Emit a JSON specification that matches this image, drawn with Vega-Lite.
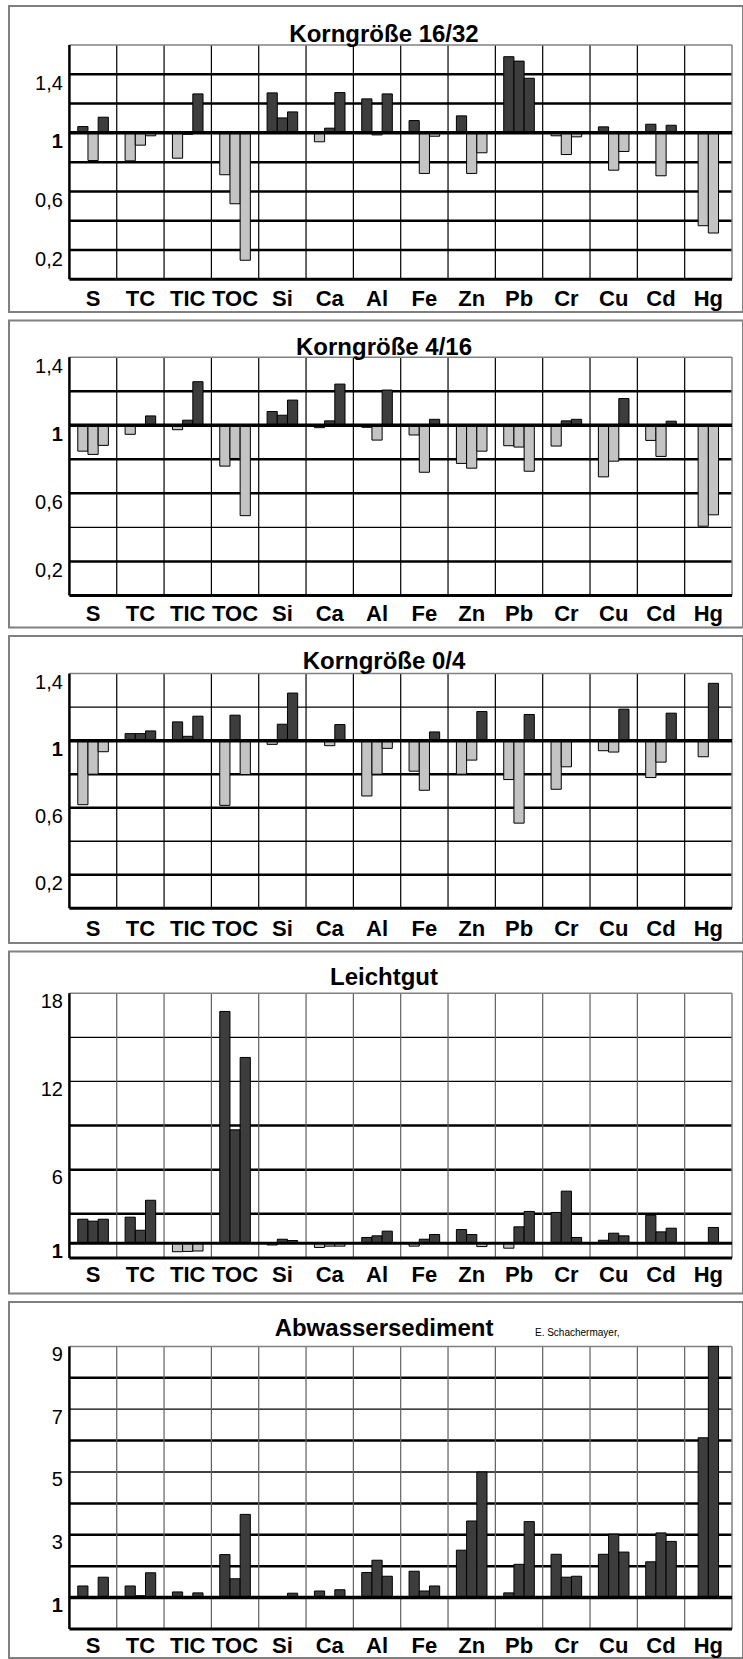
{
"$schema": "https://vega.github.io/schema/vega-lite/v6.json",
"background": "white",
"padding": {"left": 8, "top": 5, "right": 0, "bottom": 0},
"spacing": 6.5,
"config": {
 "view": {"stroke": "#808080", "strokeWidth": 2},
 "title": {"font": "Liberation Sans", "fontSize": 24, "fontWeight": "bold", "color": "#000000", "anchor": "middle"},
 "axis": {"labelFont": "Liberation Sans", "labelColor": "#000000"},
 "axisX": {"labelFontSize": 22, "labelFontWeight": "bold"},
 "axisY": {"labelFontSize": 20}
},
"datasets": {
 "cols": [{"el":"TC"},{"el":"TIC"},{"el":"TOC"},{"el":"Si"},{"el":"Ca"},{"el":"Al"},{"el":"Fe"},{"el":"Zn"},{"el":"Pb"},{"el":"Cr"},{"el":"Cu"},{"el":"Cd"},{"el":"Hg"}],
 "grid": [
  {"p":1,"g":0.2},{"p":1,"g":0.4},{"p":1,"g":0.6},{"p":1,"g":0.8},{"p":1,"g":1.2},{"p":1,"g":1.4},
  {"p":2,"g":0.2},{"p":2,"g":0.4},{"p":2,"g":0.6},{"p":2,"g":0.8},{"p":2,"g":1.2},
  {"p":3,"g":0.2},{"p":3,"g":0.4},{"p":3,"g":0.6},{"p":3,"g":0.8},{"p":3,"g":1.2},
  {"p":4,"g":3},{"p":4,"g":6},{"p":4,"g":9},{"p":4,"g":12},{"p":4,"g":15},
  {"p":5,"g":2},{"p":5,"g":3},{"p":5,"g":4},{"p":5,"g":5},{"p":5,"g":6},{"p":5,"g":7},{"p":5,"g":8}
 ],
 "bars": [
  {"p":1,"el":"S","s":"1","v":1.043},{"p":1,"el":"S","s":"2","v":0.811},{"p":1,"el":"S","s":"3","v":1.107},
  {"p":1,"el":"TC","s":"1","v":0.809},{"p":1,"el":"TC","s":"2","v":0.916},{"p":1,"el":"TC","s":"3","v":0.98},
  {"p":1,"el":"TIC","s":"1","v":0.827},{"p":1,"el":"TIC","s":"2","v":0.99},{"p":1,"el":"TIC","s":"3","v":1.266},
  {"p":1,"el":"TOC","s":"1","v":0.714},{"p":1,"el":"TOC","s":"2","v":0.516},{"p":1,"el":"TOC","s":"3","v":0.13},
  {"p":1,"el":"Si","s":"1","v":1.273},{"p":1,"el":"Si","s":"2","v":1.102},{"p":1,"el":"Si","s":"3","v":1.143},
  {"p":1,"el":"Ca","s":"1","v":0.939},{"p":1,"el":"Ca","s":"2","v":1.032},{"p":1,"el":"Ca","s":"3","v":1.275},
  {"p":1,"el":"Al","s":"1","v":1.232},{"p":1,"el":"Al","s":"2","v":0.986},{"p":1,"el":"Al","s":"3","v":1.266},
  {"p":1,"el":"Fe","s":"1","v":1.084},{"p":1,"el":"Fe","s":"2","v":0.723},{"p":1,"el":"Fe","s":"3","v":0.977},
  {"p":1,"el":"Zn","s":"1","v":1.116},{"p":1,"el":"Zn","s":"2","v":0.723},{"p":1,"el":"Zn","s":"3","v":0.864},
  {"p":1,"el":"Pb","s":"1","v":1.52},{"p":1,"el":"Pb","s":"2","v":1.49},{"p":1,"el":"Pb","s":"3","v":1.373},
  {"p":1,"el":"Cr","s":"1","v":0.98},{"p":1,"el":"Cr","s":"2","v":0.852},{"p":1,"el":"Cr","s":"3","v":0.973},
  {"p":1,"el":"Cu","s":"1","v":1.041},{"p":1,"el":"Cu","s":"2","v":0.745},{"p":1,"el":"Cu","s":"3","v":0.873},
  {"p":1,"el":"Cd","s":"1","v":1.059},{"p":1,"el":"Cd","s":"2","v":0.707},{"p":1,"el":"Cd","s":"3","v":1.052},
  {"p":1,"el":"Hg","s":"1","v":0.366},{"p":1,"el":"Hg","s":"2","v":0.316},

  {"p":2,"el":"S","s":"1","v":0.848},{"p":2,"el":"S","s":"2","v":0.829},{"p":2,"el":"S","s":"3","v":0.882},
  {"p":2,"el":"TC","s":"1","v":0.947},{"p":2,"el":"TC","s":"2","v":0.995},{"p":2,"el":"TC","s":"3","v":1.055},
  {"p":2,"el":"TIC","s":"1","v":0.974},{"p":2,"el":"TIC","s":"2","v":1.03},{"p":2,"el":"TIC","s":"3","v":1.256},
  {"p":2,"el":"TOC","s":"1","v":0.76},{"p":2,"el":"TOC","s":"2","v":0.805},{"p":2,"el":"TOC","s":"3","v":0.469},
  {"p":2,"el":"Si","s":"1","v":1.081},{"p":2,"el":"Si","s":"2","v":1.059},{"p":2,"el":"Si","s":"3","v":1.148},
  {"p":2,"el":"Ca","s":"1","v":0.986},{"p":2,"el":"Ca","s":"2","v":1.026},{"p":2,"el":"Ca","s":"3","v":1.242},
  {"p":2,"el":"Al","s":"1","v":0.988},{"p":2,"el":"Al","s":"2","v":0.913},{"p":2,"el":"Al","s":"3","v":1.207},
  {"p":2,"el":"Fe","s":"1","v":0.943},{"p":2,"el":"Fe","s":"2","v":0.724},{"p":2,"el":"Fe","s":"3","v":1.035},
  {"p":2,"el":"Zn","s":"1","v":0.776},{"p":2,"el":"Zn","s":"2","v":0.748},{"p":2,"el":"Zn","s":"3","v":0.848},
  {"p":2,"el":"Pb","s":"1","v":0.88},{"p":2,"el":"Pb","s":"2","v":0.872},{"p":2,"el":"Pb","s":"3","v":0.73},
  {"p":2,"el":"Cr","s":"1","v":0.878},{"p":2,"el":"Cr","s":"2","v":1.026},{"p":2,"el":"Cr","s":"3","v":1.035},
  {"p":2,"el":"Cu","s":"1","v":0.697},{"p":2,"el":"Cu","s":"2","v":0.789},{"p":2,"el":"Cu","s":"3","v":1.157},
  {"p":2,"el":"Cd","s":"1","v":0.911},{"p":2,"el":"Cd","s":"2","v":0.817},{"p":2,"el":"Cd","s":"3","v":1.024},
  {"p":2,"el":"Hg","s":"1","v":0.407},{"p":2,"el":"Hg","s":"2","v":0.474},

  {"p":3,"el":"S","s":"1","v":0.618},{"p":3,"el":"S","s":"2","v":0.8},{"p":3,"el":"S","s":"3","v":0.934},
  {"p":3,"el":"TC","s":"1","v":1.042},{"p":3,"el":"TC","s":"2","v":1.042},{"p":3,"el":"TC","s":"3","v":1.058},
  {"p":3,"el":"TIC","s":"1","v":1.112},{"p":3,"el":"TIC","s":"2","v":1.026},{"p":3,"el":"TIC","s":"3","v":1.146},
  {"p":3,"el":"TOC","s":"1","v":0.614},{"p":3,"el":"TOC","s":"2","v":1.152},{"p":3,"el":"TOC","s":"3","v":0.798},
  {"p":3,"el":"Si","s":"1","v":0.978},{"p":3,"el":"Si","s":"2","v":1.098},{"p":3,"el":"Si","s":"3","v":1.284},
  {"p":3,"el":"Ca","s":"2","v":0.97},{"p":3,"el":"Ca","s":"3","v":1.096},
  {"p":3,"el":"Al","s":"1","v":0.67},{"p":3,"el":"Al","s":"2","v":0.8},{"p":3,"el":"Al","s":"3","v":0.954},
  {"p":3,"el":"Fe","s":"1","v":0.818},{"p":3,"el":"Fe","s":"2","v":0.704},{"p":3,"el":"Fe","s":"3","v":1.052},
  {"p":3,"el":"Zn","s":"1","v":0.8},{"p":3,"el":"Zn","s":"2","v":0.884},{"p":3,"el":"Zn","s":"3","v":1.174},
  {"p":3,"el":"Pb","s":"1","v":0.768},{"p":3,"el":"Pb","s":"2","v":0.508},{"p":3,"el":"Pb","s":"3","v":1.156},
  {"p":3,"el":"Cr","s":"1","v":0.71},{"p":3,"el":"Cr","s":"2","v":0.844},
  {"p":3,"el":"Cu","s":"1","v":0.94},{"p":3,"el":"Cu","s":"2","v":0.932},{"p":3,"el":"Cu","s":"3","v":1.188},
  {"p":3,"el":"Cd","s":"1","v":0.78},{"p":3,"el":"Cd","s":"2","v":0.872},{"p":3,"el":"Cd","s":"3","v":1.164},
  {"p":3,"el":"Hg","s":"1","v":0.904},{"p":3,"el":"Hg","s":"2","v":1.342},

  {"p":4,"el":"S","s":"1","v":2.63},{"p":4,"el":"S","s":"2","v":2.5},{"p":4,"el":"S","s":"3","v":2.63},
  {"p":4,"el":"TC","s":"1","v":2.77},{"p":4,"el":"TC","s":"2","v":1.88},{"p":4,"el":"TC","s":"3","v":3.92},
  {"p":4,"el":"TIC","s":"1","v":0.42},{"p":4,"el":"TIC","s":"2","v":0.44},{"p":4,"el":"TIC","s":"3","v":0.47},
  {"p":4,"el":"TOC","s":"1","v":16.76},{"p":4,"el":"TOC","s":"2","v":8.71},{"p":4,"el":"TOC","s":"3","v":13.63},
  {"p":4,"el":"Si","s":"1","v":0.88},{"p":4,"el":"Si","s":"2","v":1.27},{"p":4,"el":"Si","s":"3","v":1.18},
  {"p":4,"el":"Ca","s":"1","v":0.71},{"p":4,"el":"Ca","s":"2","v":0.8},{"p":4,"el":"Ca","s":"3","v":0.8},
  {"p":4,"el":"Al","s":"1","v":1.39},{"p":4,"el":"Al","s":"2","v":1.5},{"p":4,"el":"Al","s":"3","v":1.82},
  {"p":4,"el":"Fe","s":"1","v":0.8},{"p":4,"el":"Fe","s":"2","v":1.27},{"p":4,"el":"Fe","s":"3","v":1.59},
  {"p":4,"el":"Zn","s":"1","v":1.93},{"p":4,"el":"Zn","s":"2","v":1.59},{"p":4,"el":"Zn","s":"3","v":0.77},
  {"p":4,"el":"Pb","s":"1","v":0.66},{"p":4,"el":"Pb","s":"2","v":2.11},{"p":4,"el":"Pb","s":"3","v":3.16},
  {"p":4,"el":"Cr","s":"1","v":3.09},{"p":4,"el":"Cr","s":"2","v":4.54},{"p":4,"el":"Cr","s":"3","v":1.39},
  {"p":4,"el":"Cu","s":"1","v":1.2},{"p":4,"el":"Cu","s":"2","v":1.68},{"p":4,"el":"Cu","s":"3","v":1.5},
  {"p":4,"el":"Cd","s":"1","v":2.9},{"p":4,"el":"Cd","s":"2","v":1.77},{"p":4,"el":"Cd","s":"3","v":2.02},
  {"p":4,"el":"Hg","s":"2","v":2.07},

  {"p":5,"el":"S","s":"1","v":1.37},{"p":5,"el":"S","s":"2","v":0.97},{"p":5,"el":"S","s":"3","v":1.65},
  {"p":5,"el":"TC","s":"1","v":1.37},{"p":5,"el":"TC","s":"2","v":1.06},{"p":5,"el":"TC","s":"3","v":1.79},
  {"p":5,"el":"TIC","s":"1","v":1.18},{"p":5,"el":"TIC","s":"2","v":0.97},{"p":5,"el":"TIC","s":"3","v":1.15},
  {"p":5,"el":"TOC","s":"1","v":2.37},{"p":5,"el":"TOC","s":"2","v":1.6},{"p":5,"el":"TOC","s":"3","v":3.65},
  {"p":5,"el":"Si","s":"3","v":1.14},
  {"p":5,"el":"Ca","s":"1","v":1.21},{"p":5,"el":"Ca","s":"2","v":0.97},{"p":5,"el":"Ca","s":"3","v":1.25},
  {"p":5,"el":"Al","s":"1","v":1.8},{"p":5,"el":"Al","s":"2","v":2.19},{"p":5,"el":"Al","s":"3","v":1.68},
  {"p":5,"el":"Fe","s":"1","v":1.84},{"p":5,"el":"Fe","s":"2","v":1.21},{"p":5,"el":"Fe","s":"3","v":1.37},
  {"p":5,"el":"Zn","s":"1","v":2.51},{"p":5,"el":"Zn","s":"2","v":3.44},{"p":5,"el":"Zn","s":"3","v":5.0},
  {"p":5,"el":"Pb","s":"1","v":1.15},{"p":5,"el":"Pb","s":"2","v":2.06},{"p":5,"el":"Pb","s":"3","v":3.42},
  {"p":5,"el":"Cr","s":"1","v":2.38},{"p":5,"el":"Cr","s":"2","v":1.65},{"p":5,"el":"Cr","s":"3","v":1.68},
  {"p":5,"el":"Cu","s":"1","v":2.38},{"p":5,"el":"Cu","s":"2","v":3.02},{"p":5,"el":"Cu","s":"3","v":2.45},
  {"p":5,"el":"Cd","s":"1","v":2.14},{"p":5,"el":"Cd","s":"2","v":3.06},{"p":5,"el":"Cd","s":"3","v":2.79},
  {"p":5,"el":"Hg","s":"1","v":6.09},{"p":5,"el":"Hg","s":"2","v":9.0}
 ]
},
"vconcat": [
 {
  "width": 734, "height": 306,
  "title": {"text": "Korngröße 16/32", "offset": -40.7, "dx": 8},
  "resolve": {"scale": {"xOffset": "independent"}},
  "layer": [
   {"data": {"name": "grid"}, "transform": [{"filter": "datum.p == 1"}],
    "mark": {"type": "rule", "color": "#000000", "strokeWidth": 2.5},
    "encoding": {
     "x": {"datum": "S", "type": "nominal", "bandPosition": 0, "scale": {"domain": ["S","TC","TIC","TOC","Si","Ca","Al","Fe","Zn","Pb","Cr","Cu","Cd","Hg"], "paddingInner": 0, "paddingOuter": 0.7543, "align": 0.846},
       "axis": {"title": null, "orient": "bottom", "offset": -32.7, "domain": false, "ticks": false, "grid": false, "labelAngle": 0, "labelPadding": 9}},
     "x2": {"datum": "Hg", "bandPosition": 1},
     "y": {"field": "g", "type": "quantitative", "scale": {"domain": [-0.2233, 1.8663], "nice": false, "zero": false},
       "axis": {"title": null, "orient": "left", "offset": -60.4, "domain": false, "ticks": false, "grid": false, "values": [0.2, 0.6, 1, 1.4], "labelExpr": "datum.value == 1 ? '1' : replace(format(datum.value, '.1f'), '.', ',')", "labelFontWeight": {"condition": {"test": "datum.value == 1", "value": "bold"}, "value": "normal"}, "labelPadding": 7, "labelBaseline": "middle", "labelOffset": 9}}}},
   {"data": {"name": "cols"},
    "mark": {"type": "rule", "color": "#000000", "strokeWidth": 1.2},
    "encoding": {
     "x": {"field": "el", "type": "nominal", "bandPosition": 0},
     "y": {"datum": 0, "type": "quantitative"},
     "y2": {"datum": 1.6}}},
   {"data": {"values": [{}]},
    "mark": {"type": "rule", "color": "#808080", "strokeWidth": 1.5},
    "encoding": {
     "x": {"datum": "S", "type": "nominal", "bandPosition": 0},
     "x2": {"datum": "Hg", "bandPosition": 1},
     "y": {"datum": 1.6, "type": "quantitative"}}},
   {"data": {"values": [{}]},
    "mark": {"type": "rule", "color": "#808080", "strokeWidth": 1.5},
    "encoding": {
     "x": {"datum": "Hg", "type": "nominal", "bandPosition": 1},
     "y": {"datum": 0, "type": "quantitative"},
     "y2": {"datum": 1.6}}},
   {"data": {"name": "bars"}, "transform": [{"filter": "datum.p == 1 && datum.el != 'Hg'"}],
    "mark": {"type": "bar", "stroke": "#000000", "strokeWidth": 1},
    "encoding": {
     "x": {"field": "el", "type": "nominal"},
     "xOffset": {"field": "s", "type": "nominal", "scale": {"domain": ["1","2","3"], "paddingInner": 0, "paddingOuter": 0.82}},
     "y": {"field": "v", "type": "quantitative"},
     "y2": {"datum": 1},
     "fill": {"condition": {"test": "datum.v < 1", "value": "#c4c4c4"}, "value": "#3d3d3d"}}},
   {"data": {"name": "bars"}, "transform": [{"filter": "datum.p == 1 && datum.el == 'Hg'"}],
    "mark": {"type": "bar", "stroke": "#000000", "strokeWidth": 1},
    "encoding": {
     "x": {"field": "el", "type": "nominal"},
     "xOffset": {"field": "s", "type": "nominal", "scale": {"domain": ["0","1","2","3"], "paddingInner": 0, "paddingOuter": 0.32}},
     "y": {"field": "v", "type": "quantitative"},
     "y2": {"datum": 1},
     "fill": {"condition": {"test": "datum.v < 1", "value": "#c4c4c4"}, "value": "#3d3d3d"}}},
   {"data": {"values": [{}]},
    "mark": {"type": "rule", "color": "#000000", "strokeWidth": 3.5},
    "encoding": {
     "x": {"datum": "S", "type": "nominal", "bandPosition": 0},
     "x2": {"datum": "Hg", "bandPosition": 1},
     "y": {"datum": 1, "type": "quantitative"}}},
   {"data": {"values": [{}]},
    "mark": {"type": "rule", "color": "#000000", "strokeWidth": 3},
    "encoding": {
     "x": {"datum": "S", "type": "nominal", "bandPosition": 0},
     "x2": {"datum": "Hg", "bandPosition": 1},
     "y": {"datum": 0, "type": "quantitative"}}},
   {"data": {"values": [{}]},
    "mark": {"type": "rule", "color": "#000000", "strokeWidth": 2.5},
    "encoding": {
     "x": {"datum": "S", "type": "nominal", "bandPosition": 0},
     "y": {"datum": 0, "type": "quantitative"},
     "y2": {"datum": 1.6}}}
  ]
 },
 {
  "width": 734, "height": 307,
  "title": {"text": "Korngröße 4/16", "offset": -39.3, "dx": 8},
  "resolve": {"scale": {"xOffset": "independent"}},
  "layer": [
   {"data": {"name": "grid"}, "transform": [{"filter": "datum.p == 2"}],
    "mark": {"type": "rule", "color": "#000000"},
    "encoding": {
     "x": {"datum": "S", "type": "nominal", "bandPosition": 0, "scale": {"domain": ["S","TC","TIC","TOC","Si","Ca","Al","Fe","Zn","Pb","Cr","Cu","Cd","Hg"], "paddingInner": 0, "paddingOuter": 0.7543, "align": 0.846},
       "axis": {"title": null, "orient": "bottom", "offset": -32, "domain": false, "ticks": false, "grid": false, "labelAngle": 0, "labelPadding": 7.6}},
     "x2": {"datum": "Hg", "bandPosition": 1},
     "y": {"field": "g", "type": "quantitative", "scale": {"domain": [-0.188, 1.6156], "nice": false, "zero": false},
       "axis": {"title": null, "orient": "left", "offset": -60.4, "domain": false, "ticks": false, "grid": false, "values": [0.2, 0.6, 1, 1.4], "labelExpr": "datum.value == 1 ? '1' : replace(format(datum.value, '.1f'), '.', ',')", "labelFontWeight": {"condition": {"test": "datum.value == 1", "value": "bold"}, "value": "normal"}, "labelPadding": 7, "labelBaseline": "middle", "labelOffset": 9}},
     "strokeWidth": {"condition": {"test": "datum.g == 0.4", "value": 1.3}, "value": 2.5}}},
   {"data": {"name": "cols"},
    "mark": {"type": "rule", "color": "#000000", "strokeWidth": 1.2},
    "encoding": {
     "x": {"field": "el", "type": "nominal", "bandPosition": 0},
     "y": {"datum": 0, "type": "quantitative"},
     "y2": {"datum": 1.4}}},
   {"data": {"values": [{}]},
    "mark": {"type": "rule", "color": "#808080", "strokeWidth": 1.5},
    "encoding": {
     "x": {"datum": "S", "type": "nominal", "bandPosition": 0},
     "x2": {"datum": "Hg", "bandPosition": 1},
     "y": {"datum": 1.4, "type": "quantitative"}}},
   {"data": {"values": [{}]},
    "mark": {"type": "rule", "color": "#808080", "strokeWidth": 1.5},
    "encoding": {
     "x": {"datum": "Hg", "type": "nominal", "bandPosition": 1},
     "y": {"datum": 0, "type": "quantitative"},
     "y2": {"datum": 1.4}}},
   {"data": {"name": "bars"}, "transform": [{"filter": "datum.p == 2 && datum.el != 'Hg'"}],
    "mark": {"type": "bar", "stroke": "#000000", "strokeWidth": 1},
    "encoding": {
     "x": {"field": "el", "type": "nominal"},
     "xOffset": {"field": "s", "type": "nominal", "scale": {"domain": ["1","2","3"], "paddingInner": 0, "paddingOuter": 0.82}},
     "y": {"field": "v", "type": "quantitative"},
     "y2": {"datum": 1},
     "fill": {"condition": {"test": "datum.v < 1", "value": "#c4c4c4"}, "value": "#3d3d3d"}}},
   {"data": {"name": "bars"}, "transform": [{"filter": "datum.p == 2 && datum.el == 'Hg'"}],
    "mark": {"type": "bar", "stroke": "#000000", "strokeWidth": 1},
    "encoding": {
     "x": {"field": "el", "type": "nominal"},
     "xOffset": {"field": "s", "type": "nominal", "scale": {"domain": ["0","1","2","3"], "paddingInner": 0, "paddingOuter": 0.32}},
     "y": {"field": "v", "type": "quantitative"},
     "y2": {"datum": 1},
     "fill": {"condition": {"test": "datum.v < 1", "value": "#c4c4c4"}, "value": "#3d3d3d"}}},
   {"data": {"values": [{}]},
    "mark": {"type": "rule", "color": "#000000", "strokeWidth": 3.5},
    "encoding": {
     "x": {"datum": "S", "type": "nominal", "bandPosition": 0},
     "x2": {"datum": "Hg", "bandPosition": 1},
     "y": {"datum": 1, "type": "quantitative"}}},
   {"data": {"values": [{}]},
    "mark": {"type": "rule", "color": "#000000", "strokeWidth": 3},
    "encoding": {
     "x": {"datum": "S", "type": "nominal", "bandPosition": 0},
     "x2": {"datum": "Hg", "bandPosition": 1},
     "y": {"datum": 0, "type": "quantitative"}}},
   {"data": {"values": [{}]},
    "mark": {"type": "rule", "color": "#000000", "strokeWidth": 2.5},
    "encoding": {
     "x": {"datum": "S", "type": "nominal", "bandPosition": 0},
     "y": {"datum": 0, "type": "quantitative"},
     "y2": {"datum": 1.4}}}
  ]
 },
 {
  "width": 734, "height": 307,
  "title": {"text": "Korngröße 0/4", "offset": -38.3, "dx": 8},
  "resolve": {"scale": {"xOffset": "independent"}},
  "layer": [
   {"data": {"name": "grid"}, "transform": [{"filter": "datum.p == 3"}],
    "mark": {"type": "rule", "color": "#000000"},
    "encoding": {
     "x": {"datum": "S", "type": "nominal", "bandPosition": 0, "scale": {"domain": ["S","TC","TIC","TOC","Si","Ca","Al","Fe","Zn","Pb","Cr","Cu","Cd","Hg"], "paddingInner": 0, "paddingOuter": 0.7543, "align": 0.846},
       "axis": {"title": null, "orient": "bottom", "offset": -34.7, "domain": false, "ticks": false, "grid": false, "labelAngle": 0, "labelPadding": 10}},
     "x2": {"datum": "Hg", "bandPosition": 1},
     "y": {"field": "g", "type": "quantitative", "scale": {"domain": [-0.207, 1.6243], "nice": false, "zero": false},
       "axis": {"title": null, "orient": "left", "offset": -60.4, "domain": false, "ticks": false, "grid": false, "values": [0.2, 0.6, 1, 1.4], "labelExpr": "datum.value == 1 ? '1' : replace(format(datum.value, '.1f'), '.', ',')", "labelFontWeight": {"condition": {"test": "datum.value == 1", "value": "bold"}, "value": "normal"}, "labelPadding": 7, "labelBaseline": "middle", "labelOffset": 9}},
     "strokeWidth": {"condition": {"test": "datum.g == 0.4 || datum.g == 1.2", "value": 1.3}, "value": 2.5}}},
   {"data": {"name": "cols"},
    "mark": {"type": "rule", "color": "#000000", "strokeWidth": 1.2},
    "encoding": {
     "x": {"field": "el", "type": "nominal", "bandPosition": 0},
     "y": {"datum": 0, "type": "quantitative"},
     "y2": {"datum": 1.4}}},
   {"data": {"values": [{}]},
    "mark": {"type": "rule", "color": "#808080", "strokeWidth": 1.5},
    "encoding": {
     "x": {"datum": "S", "type": "nominal", "bandPosition": 0},
     "x2": {"datum": "Hg", "bandPosition": 1},
     "y": {"datum": 1.4, "type": "quantitative"}}},
   {"data": {"values": [{}]},
    "mark": {"type": "rule", "color": "#808080", "strokeWidth": 1.5},
    "encoding": {
     "x": {"datum": "Hg", "type": "nominal", "bandPosition": 1},
     "y": {"datum": 0, "type": "quantitative"},
     "y2": {"datum": 1.4}}},
   {"data": {"name": "bars"}, "transform": [{"filter": "datum.p == 3 && datum.el != 'Hg'"}],
    "mark": {"type": "bar", "stroke": "#000000", "strokeWidth": 1},
    "encoding": {
     "x": {"field": "el", "type": "nominal"},
     "xOffset": {"field": "s", "type": "nominal", "scale": {"domain": ["1","2","3"], "paddingInner": 0, "paddingOuter": 0.82}},
     "y": {"field": "v", "type": "quantitative"},
     "y2": {"datum": 1},
     "fill": {"condition": {"test": "datum.v < 1", "value": "#c4c4c4"}, "value": "#3d3d3d"}}},
   {"data": {"name": "bars"}, "transform": [{"filter": "datum.p == 3 && datum.el == 'Hg'"}],
    "mark": {"type": "bar", "stroke": "#000000", "strokeWidth": 1},
    "encoding": {
     "x": {"field": "el", "type": "nominal"},
     "xOffset": {"field": "s", "type": "nominal", "scale": {"domain": ["0","1","2","3"], "paddingInner": 0, "paddingOuter": 0.32}},
     "y": {"field": "v", "type": "quantitative"},
     "y2": {"datum": 1},
     "fill": {"condition": {"test": "datum.v < 1", "value": "#c4c4c4"}, "value": "#3d3d3d"}}},
   {"data": {"values": [{}]},
    "mark": {"type": "rule", "color": "#000000", "strokeWidth": 3.5},
    "encoding": {
     "x": {"datum": "S", "type": "nominal", "bandPosition": 0},
     "x2": {"datum": "Hg", "bandPosition": 1},
     "y": {"datum": 1, "type": "quantitative"}}},
   {"data": {"values": [{}]},
    "mark": {"type": "rule", "color": "#000000", "strokeWidth": 3},
    "encoding": {
     "x": {"datum": "S", "type": "nominal", "bandPosition": 0},
     "x2": {"datum": "Hg", "bandPosition": 1},
     "y": {"datum": 0, "type": "quantitative"}}},
   {"data": {"values": [{}]},
    "mark": {"type": "rule", "color": "#000000", "strokeWidth": 2.5},
    "encoding": {
     "x": {"datum": "S", "type": "nominal", "bandPosition": 0},
     "y": {"datum": 0, "type": "quantitative"},
     "y2": {"datum": 1.4}}}
  ]
 },
 {
  "width": 734, "height": 342,
  "title": {"text": "Leichtgut", "offset": -38.4, "dx": 8},
  "resolve": {"scale": {"xOffset": "independent"}},
  "layer": [
   {"data": {"name": "grid"}, "transform": [{"filter": "datum.p == 4"}],
    "mark": {"type": "rule", "color": "#000000"},
    "encoding": {
     "x": {"datum": "S", "type": "nominal", "bandPosition": 0, "scale": {"domain": ["S","TC","TIC","TOC","Si","Ca","Al","Fe","Zn","Pb","Cr","Cu","Cd","Hg"], "paddingInner": 0, "paddingOuter": 0.7543, "align": 0.846},
       "axis": {"title": null, "orient": "bottom", "offset": -35.6, "domain": false, "ticks": false, "grid": false, "labelAngle": 0, "labelPadding": 7}},
     "x2": {"datum": "Hg", "bandPosition": 1},
     "y": {"field": "g", "type": "quantitative", "scale": {"domain": [-2.421, 20.836], "nice": false, "zero": false},
       "axis": {"title": null, "orient": "left", "offset": -60.4, "domain": false, "ticks": false, "grid": false, "values": [1, 6, 12, 18], "labelFontWeight": {"condition": {"test": "datum.value == 1", "value": "bold"}, "value": "normal"}, "labelPadding": 7, "labelBaseline": "middle", "labelOffset": 8}},
     "strokeWidth": {"condition": {"test": "datum.g == 12 || datum.g == 15", "value": 1.3}, "value": 2.5}}},
   {"data": {"name": "cols"},
    "mark": {"type": "rule", "color": "#606060", "strokeWidth": 1.2},
    "encoding": {
     "x": {"field": "el", "type": "nominal", "bandPosition": 0},
     "y": {"datum": 0, "type": "quantitative"},
     "y2": {"datum": 18}}},
   {"data": {"values": [{}]},
    "mark": {"type": "rule", "color": "#808080", "strokeWidth": 1.5},
    "encoding": {
     "x": {"datum": "S", "type": "nominal", "bandPosition": 0},
     "x2": {"datum": "Hg", "bandPosition": 1},
     "y": {"datum": 18, "type": "quantitative"}}},
   {"data": {"values": [{}]},
    "mark": {"type": "rule", "color": "#808080", "strokeWidth": 1.5},
    "encoding": {
     "x": {"datum": "Hg", "type": "nominal", "bandPosition": 1},
     "y": {"datum": 0, "type": "quantitative"},
     "y2": {"datum": 18}}},
   {"data": {"name": "bars"}, "transform": [{"filter": "datum.p == 4 && datum.el != 'Hg'"}],
    "mark": {"type": "bar", "stroke": "#000000", "strokeWidth": 1},
    "encoding": {
     "x": {"field": "el", "type": "nominal"},
     "xOffset": {"field": "s", "type": "nominal", "scale": {"domain": ["1","2","3"], "paddingInner": 0, "paddingOuter": 0.82}},
     "y": {"field": "v", "type": "quantitative"},
     "y2": {"datum": 1},
     "fill": {"condition": {"test": "datum.v < 1", "value": "#c4c4c4"}, "value": "#3d3d3d"}}},
   {"data": {"name": "bars"}, "transform": [{"filter": "datum.p == 4 && datum.el == 'Hg'"}],
    "mark": {"type": "bar", "stroke": "#000000", "strokeWidth": 1},
    "encoding": {
     "x": {"field": "el", "type": "nominal"},
     "xOffset": {"field": "s", "type": "nominal", "scale": {"domain": ["0","1","2","3"], "paddingInner": 0, "paddingOuter": 0.32}},
     "y": {"field": "v", "type": "quantitative"},
     "y2": {"datum": 1},
     "fill": {"condition": {"test": "datum.v < 1", "value": "#c4c4c4"}, "value": "#3d3d3d"}}},
   {"data": {"values": [{}]},
    "mark": {"type": "rule", "color": "#000000", "strokeWidth": 3},
    "encoding": {
     "x": {"datum": "S", "type": "nominal", "bandPosition": 0},
     "x2": {"datum": "Hg", "bandPosition": 1},
     "y": {"datum": 1, "type": "quantitative"}}},
   {"data": {"values": [{}]},
    "mark": {"type": "rule", "color": "#000000", "strokeWidth": 3},
    "encoding": {
     "x": {"datum": "S", "type": "nominal", "bandPosition": 0},
     "x2": {"datum": "Hg", "bandPosition": 1},
     "y": {"datum": 0, "type": "quantitative"}}},
   {"data": {"values": [{}]},
    "mark": {"type": "rule", "color": "#000000", "strokeWidth": 2.5},
    "encoding": {
     "x": {"datum": "S", "type": "nominal", "bandPosition": 0},
     "y": {"datum": 0, "type": "quantitative"},
     "y2": {"datum": 18}}}
  ]
 },
 {
  "width": 734, "height": 356,
  "title": {"text": "Abwassersediment", "offset": -38.7, "dx": 8},
  "resolve": {"scale": {"xOffset": "independent"}},
  "layer": [
   {"data": {"name": "grid"}, "transform": [{"filter": "datum.p == 5"}],
    "mark": {"type": "rule", "color": "#000000"},
    "encoding": {
     "x": {"datum": "S", "type": "nominal", "bandPosition": 0, "scale": {"domain": ["S","TC","TIC","TOC","Si","Ca","Al","Fe","Zn","Pb","Cr","Cu","Cd","Hg"], "paddingInner": 0, "paddingOuter": 0.7543, "align": 0.846},
       "axis": {"title": null, "orient": "bottom", "offset": -29, "domain": false, "ticks": false, "grid": false, "labelAngle": 0, "labelPadding": 6.5}},
     "x2": {"datum": "Hg", "bandPosition": 1},
     "y": {"field": "g", "type": "quantitative", "scale": {"domain": [-0.9236, 10.414], "nice": false, "zero": false},
       "axis": {"title": null, "orient": "left", "offset": -60.4, "domain": false, "ticks": false, "grid": false, "values": [1, 3, 5, 7, 9], "labelFontWeight": {"condition": {"test": "datum.value == 1", "value": "bold"}, "value": "normal"}, "labelPadding": 7, "labelBaseline": "middle", "labelOffset": 8}},
     "strokeWidth": {"condition": {"test": "datum.g == 5 || datum.g == 7", "value": 1.3}, "value": 2.5}}},
   {"data": {"name": "cols"},
    "mark": {"type": "rule", "color": "#606060", "strokeWidth": 1.2},
    "encoding": {
     "x": {"field": "el", "type": "nominal", "bandPosition": 0},
     "y": {"datum": 0, "type": "quantitative"},
     "y2": {"datum": 9}}},
   {"data": {"values": [{}]},
    "mark": {"type": "rule", "color": "#808080", "strokeWidth": 1.5},
    "encoding": {
     "x": {"datum": "S", "type": "nominal", "bandPosition": 0},
     "x2": {"datum": "Hg", "bandPosition": 1},
     "y": {"datum": 9, "type": "quantitative"}}},
   {"data": {"values": [{}]},
    "mark": {"type": "rule", "color": "#808080", "strokeWidth": 1.5},
    "encoding": {
     "x": {"datum": "Hg", "type": "nominal", "bandPosition": 1},
     "y": {"datum": 0, "type": "quantitative"},
     "y2": {"datum": 9}}},
   {"data": {"name": "bars"}, "transform": [{"filter": "datum.p == 5 && datum.el != 'Hg'"}],
    "mark": {"type": "bar", "stroke": "#000000", "strokeWidth": 1},
    "encoding": {
     "x": {"field": "el", "type": "nominal"},
     "xOffset": {"field": "s", "type": "nominal", "scale": {"domain": ["1","2","3"], "paddingInner": 0, "paddingOuter": 0.82}},
     "y": {"field": "v", "type": "quantitative"},
     "y2": {"datum": 1},
     "fill": {"condition": {"test": "datum.v < 1", "value": "#dcdcdc"}, "value": "#3d3d3d"}}},
   {"data": {"name": "bars"}, "transform": [{"filter": "datum.p == 5 && datum.el == 'Hg'"}],
    "mark": {"type": "bar", "stroke": "#000000", "strokeWidth": 1},
    "encoding": {
     "x": {"field": "el", "type": "nominal"},
     "xOffset": {"field": "s", "type": "nominal", "scale": {"domain": ["0","1","2","3"], "paddingInner": 0, "paddingOuter": 0.32}},
     "y": {"field": "v", "type": "quantitative"},
     "y2": {"datum": 1},
     "fill": {"condition": {"test": "datum.v < 1", "value": "#dcdcdc"}, "value": "#3d3d3d"}}},
   {"data": {"values": [{}]},
    "mark": {"type": "rule", "color": "#000000", "strokeWidth": 3.5},
    "encoding": {
     "x": {"datum": "S", "type": "nominal", "bandPosition": 0},
     "x2": {"datum": "Hg", "bandPosition": 1},
     "y": {"datum": 1, "type": "quantitative"}}},
   {"data": {"values": [{}]},
    "mark": {"type": "rule", "color": "#000000", "strokeWidth": 3},
    "encoding": {
     "x": {"datum": "S", "type": "nominal", "bandPosition": 0},
     "x2": {"datum": "Hg", "bandPosition": 1},
     "y": {"datum": 0, "type": "quantitative"}}},
   {"data": {"values": [{}]},
    "mark": {"type": "rule", "color": "#000000", "strokeWidth": 2.5},
    "encoding": {
     "x": {"datum": "S", "type": "nominal", "bandPosition": 0},
     "y": {"datum": 0, "type": "quantitative"},
     "y2": {"datum": 9}}},
   {"data": {"values": [{"t": "E. Schachermayer,"}]},
    "mark": {"type": "text", "font": "Liberation Sans", "fontSize": 10, "align": "left", "baseline": "alphabetic", "color": "#000000"},
    "encoding": {
     "x": {"datum": "Pb", "type": "nominal", "bandPosition": 0.837},
     "y": {"datum": 9.34, "type": "quantitative"},
     "text": {"field": "t"}}}
  ]
 }
]
}
